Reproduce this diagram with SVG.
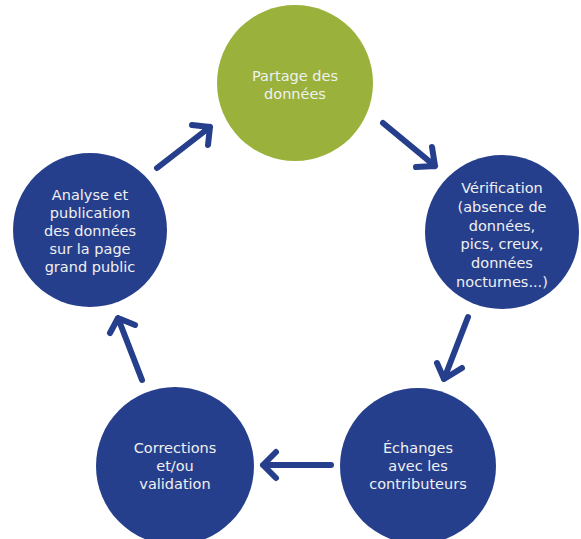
<svg xmlns="http://www.w3.org/2000/svg" width="581" height="539" viewBox="0 0 581 539">
<style>
.blue{fill:#263f8d}
.green{fill:#9ab23b}
.t{font-family:"DejaVu Sans","Liberation Sans",sans-serif;font-size:14.5px;fill:#f0f0f0;text-anchor:middle}
.a{fill:none;stroke:#263f8d;stroke-width:6;stroke-linecap:round;stroke-linejoin:round}
</style>
<rect width="581" height="539" fill="#ffffff"/>
<g id="partage">
<circle class="green" cx="295" cy="83" r="78"/>
<text class="t"><tspan x="295" y="81">Partage des</tspan><tspan x="295" y="99">données</tspan></text>
</g>
<g id="verification">
<circle class="blue" cx="502" cy="232" r="77"/>
<text class="t"><tspan x="502" y="193">Vérification</tspan><tspan x="502" y="211.8">(absence de</tspan><tspan x="502" y="230.6">données,</tspan><tspan x="502" y="249.4">pics, creux,</tspan><tspan x="502" y="268.2">données</tspan><tspan x="502" y="287">nocturnes...)</tspan></text>
</g>
<g id="echanges">
<circle class="blue" cx="418" cy="466" r="78"/>
<text class="t"><tspan x="418" y="453">Échanges</tspan><tspan x="418" y="471">avec les</tspan><tspan x="418" y="489">contributeurs</tspan></text>
</g>
<g id="corrections">
<circle class="blue" cx="175" cy="466" r="79"/>
<text class="t"><tspan x="175" y="453">Corrections</tspan><tspan x="175" y="471">et/ou</tspan><tspan x="175" y="489">validation</tspan></text>
</g>
<g id="analyse">
<circle class="blue" cx="90" cy="230" r="77"/>
<text class="t"><tspan x="90" y="200">Analyse et</tspan><tspan x="90" y="218">publication</tspan><tspan x="90" y="236">des données</tspan><tspan x="90" y="254">sur la page</tspan><tspan x="90" y="272">grand public</tspan></text>
</g>
<g id="connectors">
<path class="a" d="M157,168 L210,127 M192,125 L210,127 L208,145"/>
<path class="a" d="M383,123 L435,166 M432,147 L435,166 L416,167"/>
<path class="a" d="M468,317 L444,379 M437,363 L444,379 L462,368"/>
<path class="a" d="M331,465 L263,465 M276,452 L263,465 L276,478"/>
<path class="a" d="M142,380 L118,318 M110,333 L118,318 L135,325"/>
</g>
</svg>
